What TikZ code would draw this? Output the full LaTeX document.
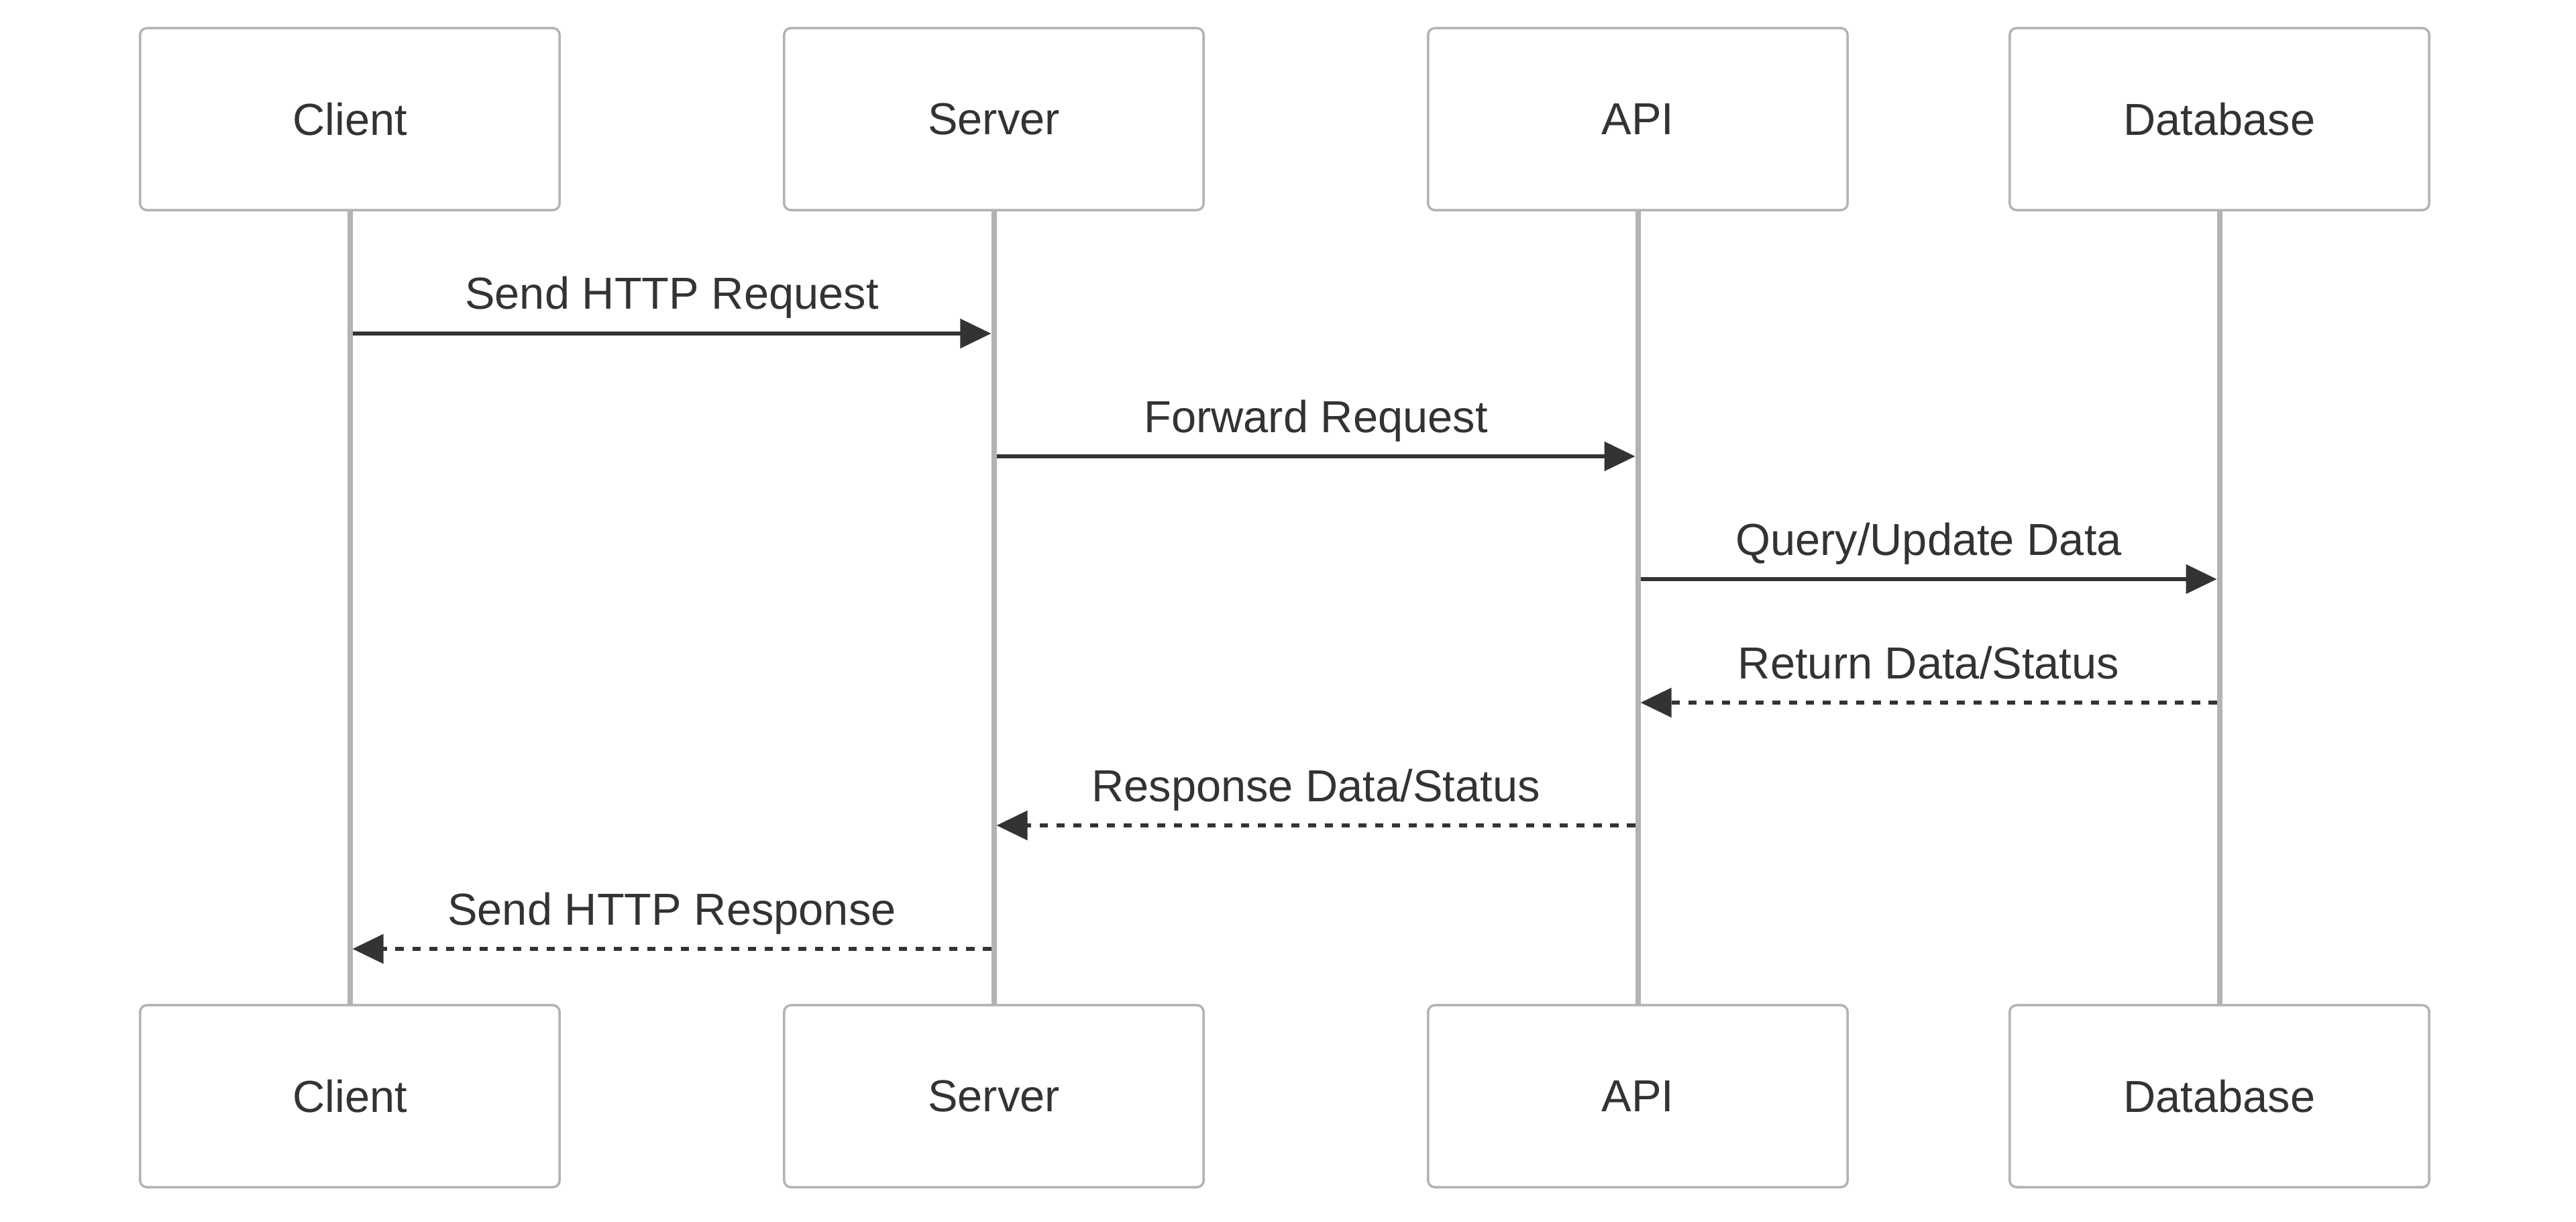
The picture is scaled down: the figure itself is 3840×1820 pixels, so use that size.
\documentclass[tikz,border=0pt]{standalone}
\usepackage{fontspec}
\setmainfont{Liberation Sans}
\usetikzlibrary{arrows.meta}
\definecolor{edge}{HTML}{B3B3B3}
\definecolor{ink}{HTML}{333333}

\begin{document}
\begin{tikzpicture}[x=0.01cm,y=-0.01cm,
  actor/.style={draw=edge, line width=0.035cm, rounded corners=0.1cm,
    minimum width=6.25cm, minimum height=2.71cm, inner sep=0pt,
    fill=white, text=ink, font=\fontsize{19}{23}\selectfont},
  life/.style={draw=edge, line width=0.08cm},
  msg/.style={draw=ink, line width=0.055cm, shorten >=0.04cm, shorten <=0.04cm,
    -{Triangle[length=0.46cm,width=0.43cm]}},
  reply/.style={msg, dash pattern=on 0.125cm off 0.125cm},
  lbl/.style={text=ink, font=\fontsize{19}{23}\selectfont, anchor=base,
    yshift=0.36cm, inner sep=0pt}
]
\useasboundingbox[fill=white] (0,0) rectangle (3840,1820);

% participants, top row
\node[actor] (ct) at (521.5,177.5)  {Client};
\node[actor] (st) at (1481.5,177.5) {Server};
\node[actor] (at) at (2441.5,177.5) {API};
\node[actor] (dt) at (3308.5,177.5) {Database};

% participants, bottom row
\node[actor] (cb) at (521.5,1633.5)  {Client};
\node[actor] (sb) at (1481.5,1633.5) {Server};
\node[actor] (ab) at (2441.5,1633.5) {API};
\node[actor] (db) at (3308.5,1633.5) {Database};

% lifelines
\draw[life] (ct.south) -- (cb.north);
\draw[life] (st.south) -- (sb.north);
\draw[life] (at.south) -- (ab.north);
\draw[life] (dt.south) -- (db.north);

% messages: calls solid, replies dashed
\draw[msg]   (ct.south |- 0,497)  -- node[lbl, midway] {Send HTTP Request}   (st.south |- 0,497);
\draw[msg]   (st.south |- 0,680)  -- node[lbl, midway] {Forward Request}     (at.south |- 0,680);
\draw[msg]   (at.south |- 0,863)  -- node[lbl, midway] {Query/Update Data}   (dt.south |- 0,863);
\draw[reply] (dt.south |- 0,1047) -- node[lbl, midway] {Return Data/Status}  (at.south |- 0,1047);
\draw[reply] (at.south |- 0,1230) -- node[lbl, midway] {Response Data/Status} (st.south |- 0,1230);
\draw[reply] (st.south |- 0,1414) -- node[lbl, midway] {Send HTTP Response}  (ct.south |- 0,1414);
\end{tikzpicture}
\end{document}
